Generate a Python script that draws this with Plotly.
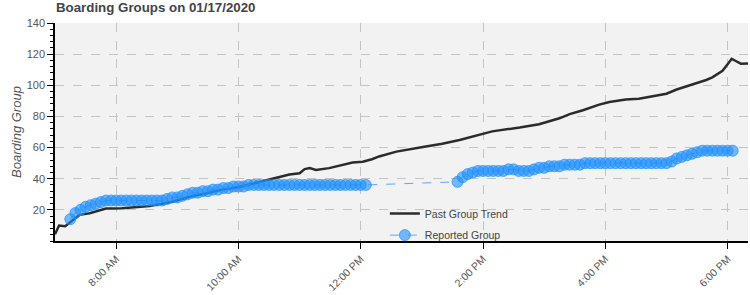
import plotly.graph_objects as go

DATE = "2020-01-17 "

# Past Group Trend (black line)
trend_times = ["07:00", "07:04", "07:10", "07:14", "07:24", "07:34", "07:37", "07:50",
               "08:06", "08:23", "08:33", "08:55", "09:12", "09:28", "09:44", "10:01",
               "10:17", "10:33", "10:50", "11:00", "11:05", "11:10", "11:16", "11:29",
               "11:39", "11:52", "12:02", "12:11", "12:18", "12:35", "13:01", "13:20",
               "13:37", "13:56", "14:09", "14:36", "14:55", "15:15", "15:25", "15:38",
               "15:54", "16:04", "16:20", "16:33", "16:50", "17:00", "17:10", "17:22",
               "17:39", "17:45", "17:55", "18:00", "18:04", "18:08", "18:13", "18:22"]
trend_values = [4.4, 9.9, 9.5, 11.5, 16.8, 17.8, 18.3, 20.8,
                21.0, 22.0, 22.5, 25.2, 28.4, 30.5, 33.0, 34.7,
                37.2, 40.0, 42.7, 43.5, 46.2, 46.8, 45.6, 46.8,
                48.3, 50.4, 50.9, 52.5, 54.3, 57.4, 60.3, 62.4,
                64.9, 68.3, 70.4, 72.9, 75.0, 78.8, 81.5, 84.0,
                87.6, 89.3, 90.8, 91.4, 93.5, 94.6, 97.3, 99.8,
                103.4, 105.1, 109.3, 113.5, 117.0, 115.6, 113.9, 114.0]

# Reported Group (blue markers)
reported_times = [
    "07:15", "07:20", "07:25", "07:30", "07:35", "07:40", "07:45", "07:50", "07:55",
    "08:00", "08:05", "08:10", "08:15", "08:20", "08:25", "08:30", "08:35", "08:40", "08:45",
    "08:50", "08:55", "09:00", "09:05", "09:10", "09:15", "09:20", "09:25", "09:30", "09:35",
    "09:40", "09:45", "09:50", "09:55", "10:00", "10:05", "10:10", "10:15", "10:20", "10:25",
    "10:30", "10:35", "10:40", "10:45", "10:50", "10:55", "11:00", "11:05", "11:10", "11:15",
    "11:20", "11:25", "11:30", "11:35", "11:40", "11:45", "11:50", "11:55", "12:00", "12:05",
    "13:35", "13:40", "13:45", "13:50", "13:55", "14:00", "14:05", "14:10", "14:15", "14:20",
    "14:25", "14:30", "14:35", "14:40", "14:45", "14:50", "14:55", "15:00", "15:05", "15:10",
    "15:15", "15:20", "15:25", "15:30", "15:35", "15:40", "15:45", "15:50", "15:55", "16:00",
    "16:05", "16:10", "16:15", "16:20", "16:25", "16:30", "16:35", "16:40", "16:45", "16:50",
    "16:55", "17:00", "17:05", "17:10", "17:15", "17:20", "17:25", "17:30", "17:35", "17:40",
    "17:45", "17:50", "17:55", "18:00", "18:05"]
reported_values = [
    14, 18, 20, 22, 23, 24, 25, 26, 26,
    26, 26, 26, 26, 26, 26, 26, 26, 26, 26,
    27, 28, 28, 29, 30, 31, 31, 32, 32, 33,
    33, 34, 34, 35, 35, 35, 36, 36, 36, 36,
    36, 36, 36, 36, 36, 36, 36, 36, 36, 36,
    36, 36, 36, 36, 36, 36, 36, 36, 36, 36,
    38, 41, 43, 44, 45, 45, 45, 45, 45, 45,
    46, 46, 45, 45, 45, 46, 47, 47, 48, 48,
    48, 49, 49, 49, 49, 50, 50, 50, 50, 50,
    50, 50, 50, 50, 50, 50, 50, 50, 50, 50,
    50, 50, 51, 53, 54, 55, 56, 57, 58, 58,
    58, 58, 58, 58, 58]

x_tick_vals = ["08:00", "10:00", "12:00", "14:00", "16:00", "18:00"]
x_tick_text = ["8:00 AM", "10:00 AM", "12:00 PM", "2:00 PM", "4:00 PM", "6:00 PM"]
y_tick_vals = [20, 40, 60, 80, 100, 120, 140]

FONT = "Liberation Sans, Arial, sans-serif"

fig = go.Figure()
fig.add_trace(go.Scatter(
    x=[DATE + t for t in trend_times], y=trend_values,
    mode="lines", name="Past Group Trend", legend="legend",
    line=dict(color="#2b2b2b", width=2.5),
))
fig.add_trace(go.Scatter(
    x=[DATE + t for t in reported_times], y=reported_values,
    mode="lines+markers", name="Reported Group", legend="legend2",
    line=dict(color="#5fa8f5", width=1, dash="dash"),
    marker=dict(size=11, color="rgba(30,144,255,0.6)",
                line=dict(color="rgba(30,144,255,0.7)", width=1)),
))

legend_common = dict(xanchor="left", yanchor="middle", bgcolor="rgba(0,0,0,0)",
                     font=dict(size=10.5, color="#444"), itemwidth=30)
fig.update_layout(
    width=750, height=295,
    margin=dict(l=55, r=2, t=23, b=50),
    paper_bgcolor="white", plot_bgcolor="#f2f2f2",
    font=dict(family=FONT, color="#444", size=11),
    title=dict(text="<b>Boarding Groups on 01/17/2020</b>",
               font=dict(family=FONT, size=13.3, color="#444"),
               x=56 / 750, xanchor="left", xref="container",
               y=0.99, yanchor="top", yref="container"),
    showlegend=True,
    legend=dict(x=0.476, y=0.126, **legend_common),
    legend2=dict(x=0.476, y=0.027, **legend_common),
)
fig.update_xaxes(
    type="date",
    range=[DATE + "07:00", DATE + "18:20"],
    tickvals=[DATE + t for t in x_tick_vals], ticktext=x_tick_text,
    tickangle=-45, tickfont=dict(size=10.5, color="#555"),
    showline=True, linecolor="black", linewidth=1.5,
    ticks="outside", ticklen=6, tickcolor="black", tickwidth=1,
    showgrid=True, gridcolor="#c4c4c4", griddash="dash", gridwidth=1,
    zeroline=False,
)
fig.update_yaxes(
    range=[0, 140],
    tickvals=y_tick_vals, tickfont=dict(size=11, color="#555"),
    showline=True, linecolor="black", linewidth=1.5,
    ticks="outside", ticklen=6, tickcolor="black", tickwidth=1,
    minor=dict(dtick=4, ticks="outside", ticklen=3, tickcolor="black", showgrid=False),
    showgrid=True, gridcolor="#c4c4c4", griddash="dash", gridwidth=1,
    zeroline=False,
    title=dict(text="<i>Boarding Group</i>", font=dict(size=13, color="#555"), standoff=2),
)

fig.write_html("out.html")
